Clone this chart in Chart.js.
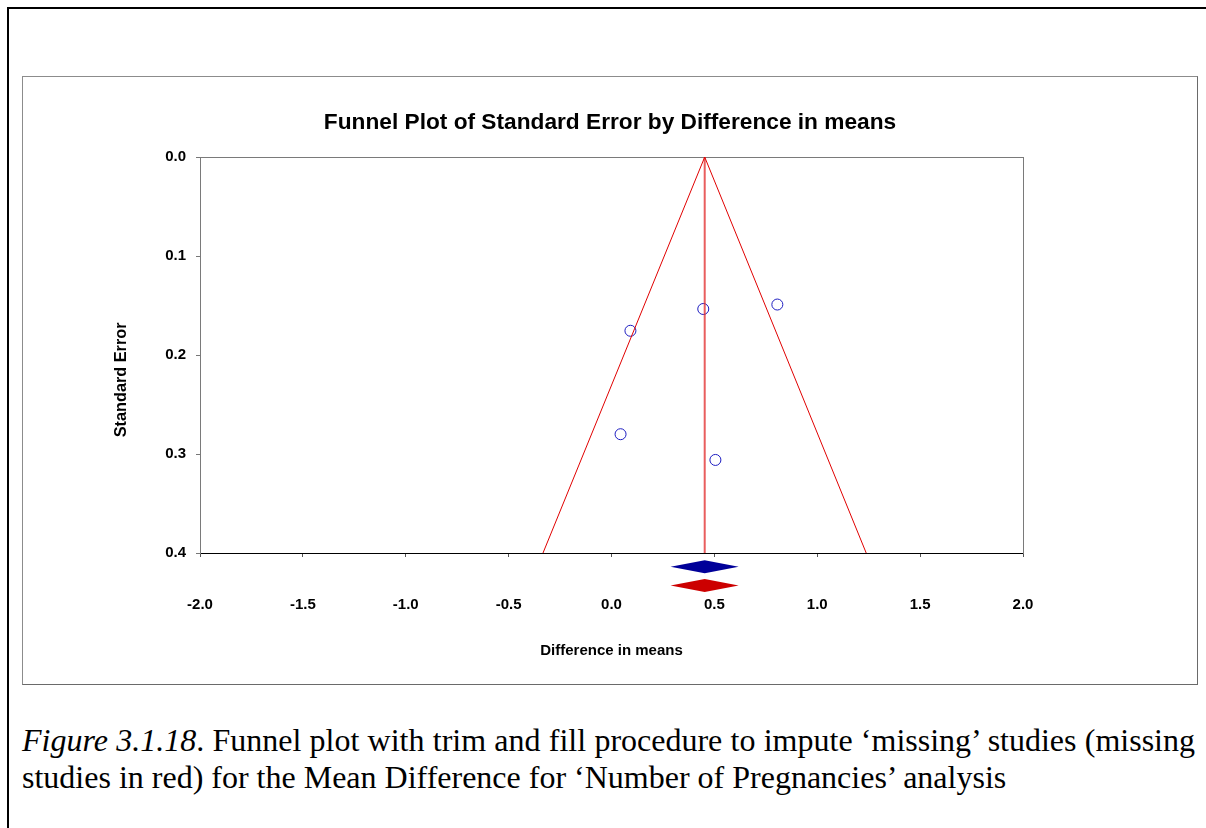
<!DOCTYPE html>
<html>
<head>
<meta charset="utf-8">
<script src="https://cdn.jsdelivr.net/npm/chart.js@4"></script>
<style>
    html, body { margin: 0; padding: 0; background: #fff; }
    body { width: 1206px; height: 828px; position: relative; overflow: hidden; }
    .page-frame {
        position: absolute; left: 7px; top: 7px; width: 1300px; height: 900px;
        border-top: 2px solid #000; border-left: 2px solid #000;
    }
    .chart-box {
        position: absolute; left: 22px; top: 76px; width: 1176px; height: 609px;
        box-sizing: border-box; border: 1px solid #8c8c8c;
        border-right-color: #6a6a6a; border-bottom-color: #6a6a6a;
    }
    .chart-box canvas { position: absolute; left: 0; top: 0; }
    .caption {
        position: absolute; left: 22px; top: 722px; width: 1173px;
        font-family: "Liberation Serif", "Times New Roman", serif;
        font-size: 32px; line-height: 37px; color: #000;
    }
    .caption .line1 { white-space: nowrap; text-align: justify; text-align-last: justify; }
    .caption .line2 { white-space: nowrap; }
</style>
</head>
<body>
<div class="page-frame"></div>
<div class="chart-box">
    <canvas id="funnelChart" width="1174" height="607"></canvas>
</div>
<div class="caption">
    <div class="line1"><i>Figure 3.1.18</i>. Funnel plot with trim and fill procedure to impute ‘missing’ studies (missing</div>
    <div class="line2">studies in red) for the Mean Difference for ‘Number of Pregnancies’ analysis</div>
</div>

<script>
// observed studies: effect (difference in means) and standard error
const studyEffect = [0.092, 0.446, 0.806, 0.044, 0.505];
const studySE = [0.1755, 0.1535, 0.149, 0.280, 0.306];

// pooled estimate: [observed, adjusted after trim and fill]
const pooledEffect = [0.453, 0.453];
const pooledLower = [0.287, 0.287];
const pooledUpper = [0.618, 0.618];

// funnel edges at the bottom of the plot (SE = 0.4)
const funnelBaseX = [-0.333, 1.238];

const xTickLabels = ['-2.0', '-1.5', '-1.0', '-0.5', '0.0', '0.5', '1.0', '1.5', '2.0'];
const yTickLabels = ['0.0', '0.1', '0.2', '0.3', '0.4'];

document.addEventListener('DOMContentLoaded', () => {
    Chart.defaults.font.family = '"Liberation Sans", Arial, sans-serif';
    Chart.defaults.color = '#000';

    // diamonds for the pooled effects, drawn just under the x axis
    const diamondPlugin = {
        id: 'pooledDiamonds',
        afterDatasetsDraw(chart) {
            const { ctx, scales: { x, y } } = chart;
            const rows = [
                { se: 0.4138, color: '#000099' },
                { se: 0.4328, color: '#cc0000' }
            ];
            rows.forEach((row, i) => {
                const cy = y.getPixelForValue(row.se);
                const half = 6.5;
                ctx.save();
                ctx.fillStyle = row.color;
                ctx.beginPath();
                ctx.moveTo(x.getPixelForValue(pooledLower[i]), cy);
                ctx.lineTo(x.getPixelForValue(pooledEffect[i]), cy - half);
                ctx.lineTo(x.getPixelForValue(pooledUpper[i]), cy);
                ctx.lineTo(x.getPixelForValue(pooledEffect[i]), cy + half);
                ctx.closePath();
                ctx.fill();
                ctx.restore();
            });
        }
    };

    const ctx = document.getElementById('funnelChart').getContext('2d');
    new Chart(ctx, {
        type: 'scatter',
        data: {
            datasets: [
                {
                    label: 'Funnel',
                    data: [
                        { x: funnelBaseX[0], y: 0.4 },
                        { x: pooledEffect[0], y: 0 },
                        { x: funnelBaseX[1], y: 0.4 }
                    ],
                    showLine: true,
                    borderColor: '#e00000',
                    borderWidth: 1,
                    pointRadius: 0
                },
                {
                    label: 'Pooled',
                    data: [
                        { x: pooledEffect[0], y: 0 },
                        { x: pooledEffect[0], y: 0.4 }
                    ],
                    showLine: true,
                    borderColor: 'rgba(225, 40, 40, 0.75)',
                    borderWidth: 2,
                    pointRadius: 0
                },
                {
                    label: 'Studies',
                    data: studyEffect.map((v, i) => ({ x: v, y: studySE[i] })),
                    pointRadius: 5.5,
                    pointBorderWidth: 1,
                    borderColor: '#1c1cc0',
                    backgroundColor: 'rgba(0,0,0,0)'
                }
            ]
        },
        options: {
            responsive: false,
            animation: false,
            layout: {
                padding: 0
            },
            plugins: {
                legend: { display: false },
                tooltip: { enabled: false },
                title: {
                    display: true,
                    text: 'Funnel Plot of Standard Error by Difference in means',
                    color: '#000',
                    font: { size: 22.7, weight: 'bold' },
                    padding: { top: 32.4, bottom: 20.4 }
                }
            },
            scales: {
                x: {
                    type: 'linear',
                    position: 'bottom',
                    min: -2,
                    max: 2,
                    afterFit: s => { s.height = 131; },
                    ticks: {
                        stepSize: 0.5,
                        padding: 39,
                        font: { size: 15, weight: 'bold' },
                        callback: v => xTickLabels[Math.round((v + 2) * 2)]
                    },
                    grid: { drawOnChartArea: false, tickLength: 4, color: '#555' },
                    border: { color: '#000', width: 1 },
                    title: {
                        display: true,
                        text: 'Difference in means',
                        font: { size: 15, weight: 'bold' },
                        padding: { top: 0, bottom: 24 }
                    }
                },
                y: {
                    type: 'linear',
                    position: 'left',
                    reverse: true,
                    min: 0,
                    max: 0.4,
                    afterFit: s => { s.width = 177; },
                    ticks: {
                        stepSize: 0.1,
                        padding: 10,
                        font: { size: 15, weight: 'bold' },
                        callback: v => yTickLabels[Math.round(v * 10)]
                    },
                    grid: { drawOnChartArea: false, tickLength: 4, color: '#777' },
                    border: { color: '#7a7a7a', width: 1 },
                    title: {
                        display: true,
                        text: 'Standard Error           ',
                        font: { size: 16.3, weight: 'bold' },
                        padding: { top: 89, bottom: 0 }
                    }
                },
                xTop: {
                    type: 'linear',
                    position: 'top',
                    min: -2,
                    max: 2,
                    afterFit: s => { s.height = 0; },
                    ticks: { display: false },
                    grid: { drawOnChartArea: false, drawTicks: false },
                    border: { color: '#7a7a7a', width: 1 }
                },
                yRight: {
                    type: 'linear',
                    position: 'right',
                    min: 0,
                    max: 0.4,
                    afterFit: s => { s.width = 174; },
                    ticks: { display: false },
                    grid: { drawOnChartArea: false, drawTicks: false },
                    border: { color: '#7a7a7a', width: 1 }
                }
            }
        },
        plugins: [diamondPlugin]
    });
});
</script>
</body>
</html>
